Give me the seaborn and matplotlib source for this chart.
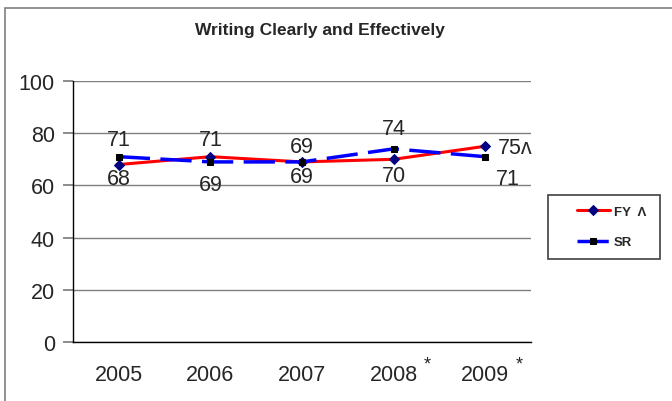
import matplotlib
matplotlib.use('Agg')
import matplotlib.pyplot as plt
import matplotlib.patches as mpatches
import seaborn as sns
import pandas as pd

years = ['2005', '2006', '2007', '2008', '2009']
year_marks = ['', '', '', '*', '*']
fy = [68, 71, 69, 70, 75]
sr = [71, 69, 69, 74, 71]
fy_text = ['68', '71', '69', '70', '75\u028c']
sr_text = ['71', '69', '69', '74', '71']

sns.set_theme(style='white')
plt.rcParams['font.family'] = ['Liberation Sans', 'DejaVu Sans']

df = pd.DataFrame({'pos': range(len(years)), 'FY': fy, 'SR': sr})

W, H = 672, 402
fig = plt.figure(figsize=(6.72, 4.02), dpi=100)
ax = fig.add_axes([73 / W, (H - 343) / H, 458 / W, 261 / H])

# outer frame of the chart area
fig.patches.append(mpatches.Rectangle((5 / W, -0.05), 1.2, (H - 9) / H + 0.05,
                                      transform=fig.transFigure, fill=False,
                                      edgecolor='#7f7f7f', lw=1.2, zorder=0))
# legend box
fig.patches.append(mpatches.Rectangle((548 / W, (H - 260) / H), 112 / W, 64 / H,
                                      transform=fig.transFigure, fill=False,
                                      edgecolor='#404040', lw=1.2, zorder=0))

sns.lineplot(data=df, x='pos', y='FY', ax=ax, color='red', lw=2.2,
             marker='D', markersize=5.5, markerfacecolor='#000080',
             markeredgecolor='#000080', label='FY  \u039b')
sns.lineplot(data=df, x='pos', y='SR', ax=ax, color='blue', lw=2.5,
             marker='s', markersize=4.8, markerfacecolor='black',
             markeredgecolor='black', label='SR')
ax.lines[1].set_dashes([9, 3])

# data labels (offsets in points)
fy_off = [(0, -10), (0, 12.5), (0, -10.6), (0, -11.4), (21.5, -1)]
sr_off = [(0, 12.5), (0, -16), (0, 11), (0, 14.6), (16, -15.6)]
fs = 15.5
for i in range(len(years)):
    ax.annotate(fy_text[i], (i, fy[i]), xytext=fy_off[i], textcoords='offset points',
                ha='center', va='center', fontsize=fs)
    ax.annotate(sr_text[i], (i, sr[i]), xytext=sr_off[i], textcoords='offset points',
                ha='center', va='center', fontsize=fs)

ax.set_xlim(-0.5, len(years) - 0.5)
ax.set_ylim(0, 100)
ax.set_yticks(range(0, 101, 20))
ax.set_xticks(range(len(years)))
ax.set_xticklabels(years)
ax.set_xticks([i - 0.5 for i in range(len(years) + 1)], minor=True)
ax.tick_params(axis='x', which='major', length=0, pad=16, labelsize=fs)
ax.tick_params(axis='x', which='minor', length=4.5, direction='out', color='#808080')
ax.tick_params(axis='y', length=7, direction='out', color='#7f7f7f', labelsize=fs,
               left=True, pad=6)
ax.set_xlabel('')
ax.set_ylabel('')
ax.grid(axis='y', color='#7f7f7f', lw=1)
ax.set_axisbelow(True)
for s in ['top', 'right']:
    ax.spines[s].set_visible(False)
for s in ['left', 'bottom']:
    ax.spines[s].set_color('black')
    ax.spines[s].set_linewidth(1)

# asterisks after 2008 / 2009
for i, m in enumerate(year_marks):
    if m:
        ax.annotate(m, (i, 0), xycoords=('data', 'axes fraction'), xytext=(24.5, -15.5),
                    textcoords='offset points', ha='center', va='center', fontsize=13)

fig.text(320 / W, (H - 30) / H, 'Writing Clearly and Effectively', ha='center',
         va='center', fontsize=12.5, fontweight='bold')

leg = ax.legend(loc='center left', bbox_to_anchor=(577 / W, (H - 228) / H),
                bbox_transform=fig.transFigure, frameon=False,
                prop={'weight': 'bold', 'size': 9.5}, handlelength=2.5,
                labelspacing=1.35, borderpad=0, borderaxespad=0, handletextpad=0.3)

fig.savefig('out.png', dpi=100)
